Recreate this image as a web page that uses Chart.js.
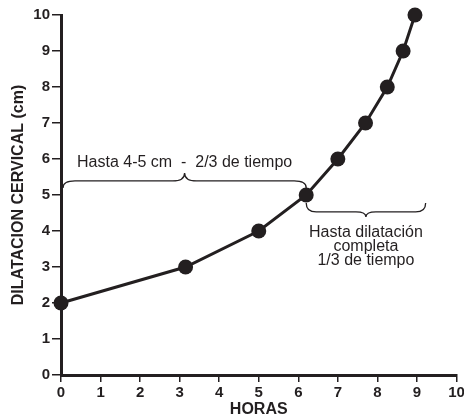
<!DOCTYPE html>
<html><head><meta charset="utf-8">
<script src="https://cdn.jsdelivr.net/npm/chart.js@4/dist/chart.umd.min.js"></script>
<style>html,body{margin:0;padding:0;background:#fff}#wrap{width:464px;height:416px}</style>
</head><body><div id="wrap"><canvas id="c" width="464" height="416"></canvas></div>
<script>
const horas = [0, 3.15, 5, 6.2, 7, 7.7, 8.25, 8.65, 8.95];
const dilatacion = [2, 3, 4, 5, 6, 7, 8, 9, 10];
const xTicks = [0,1,2,3,4,5,6,7,8,9,10];
const yTicks = [0,1,2,3,4,5,6,7,8,9,10];
const xTitle = 'HORAS';
const yTitle = 'DILATACION CERVICAL (cm)';
const brace1Text = ['Hasta 4-5 cm  -  2/3 de tiempo'];
const brace2Text = ['Hasta dilatación', 'completa', '1/3 de tiempo'];

const INK = '#231f20';
const FONT = '"Liberation Sans", Arial, sans-serif';

function brace(ctx, x1, x2, yLine, yEnd, yTip, r) {
  const xm = (x1 + x2) / 2;
  ctx.beginPath();
  ctx.moveTo(x1, yEnd);
  ctx.quadraticCurveTo(x1, yLine, x1 + r, yLine);
  ctx.lineTo(xm - r, yLine);
  ctx.quadraticCurveTo(xm, yLine, xm, yTip);
  ctx.quadraticCurveTo(xm, yLine, xm + r, yLine);
  ctx.lineTo(x2 - r, yLine);
  ctx.quadraticCurveTo(x2, yLine, x2, yEnd);
  ctx.stroke();
}

const annot = {
  id: 'annot',
  afterDatasetsDraw(chart) {
    const ctx = chart.ctx, xs = chart.scales.x, ys = chart.scales.y;
    ctx.save();
    ctx.strokeStyle = INK; ctx.lineWidth = 1.3; ctx.fillStyle = INK;
    const a1 = xs.getPixelForValue(0.05), a2 = xs.getPixelForValue(6.2);
    const yl1 = ys.getPixelForValue(5.39);
    brace(ctx, a1, a2, yl1, yl1 + 7, yl1 - 8, 12);
    ctx.font = '16px ' + FONT; ctx.textAlign = 'center'; ctx.textBaseline = 'alphabetic';
    ctx.fillText(brace1Text[0], (a1 + a2) / 2, yl1 - 14);
    const b1 = xs.getPixelForValue(6.2), b2 = xs.getPixelForValue(9.22);
    const yl2 = ys.getPixelForValue(4.53);
    brace(ctx, b1, b2, yl2, yl2 - 9, yl2 + 5, 10);
    const cx = (b1 + b2) / 2;
    brace2Text.forEach((t, i) => ctx.fillText(t, cx, yl2 + 25 + i * 14));
    ctx.restore();
  }
};

new Chart(document.getElementById('c'), {
  type: 'scatter',
  data: { datasets: [{
    data: horas.map((h, i) => ({ x: h, y: dilatacion[i] })),
    showLine: true, borderColor: INK, borderWidth: 3, clip: false,
    pointRadius: 7.5, pointBackgroundColor: INK, pointBorderColor: INK, pointBorderWidth: 0,
    tension: 0
  }]},
  options: {
    responsive: false, animation: false,
    layout: { padding: { top: 15, right: 3, left: 0, bottom: 0 } },
    plugins: { legend: { display: false }, tooltip: { enabled: false } },
    scales: {
      x: {
        type: 'linear', min: 0, max: 10,
        afterBuildTicks: s => { s.ticks = xTicks.map(v => ({ value: v })); },
        afterFit: s => { s.height = 41; s.paddingRight = 0; s.paddingLeft = 0; },
        border: { display: true, color: INK, width: 3 },
        grid: { display: true, drawOnChartArea: false, drawTicks: true, tickLength: 7, color: INK, lineWidth: 1.5 },
        ticks: { color: INK, font: { family: FONT, size: 15, weight: 'bold' }, padding: 2, maxRotation: 0 },
        title: { display: true, text: xTitle, color: INK, font: { family: FONT, size: 16, weight: 'bold', lineHeight: 0.8 }, padding: { top: 0, bottom: 0 } }
      },
      y: {
        type: 'linear', min: 0, max: 10,
        afterBuildTicks: s => { s.ticks = yTicks.map(v => ({ value: v })); },
        afterFit: s => { s.width = 61; },
        border: { display: true, color: INK, width: 3 },
        grid: { display: true, drawOnChartArea: false, drawTicks: true, tickLength: 9, color: INK, lineWidth: 1.5 },
        ticks: { color: INK, font: { family: FONT, size: 15, weight: 'bold' }, padding: 2 },
        title: { display: true, text: yTitle, color: INK, font: { family: FONT, size: 16, weight: 'bold', lineHeight: 0.8 }, padding: { top: 12, bottom: 0 } }
      }
    }
  },
  plugins: [annot]
});
</script></body></html>
